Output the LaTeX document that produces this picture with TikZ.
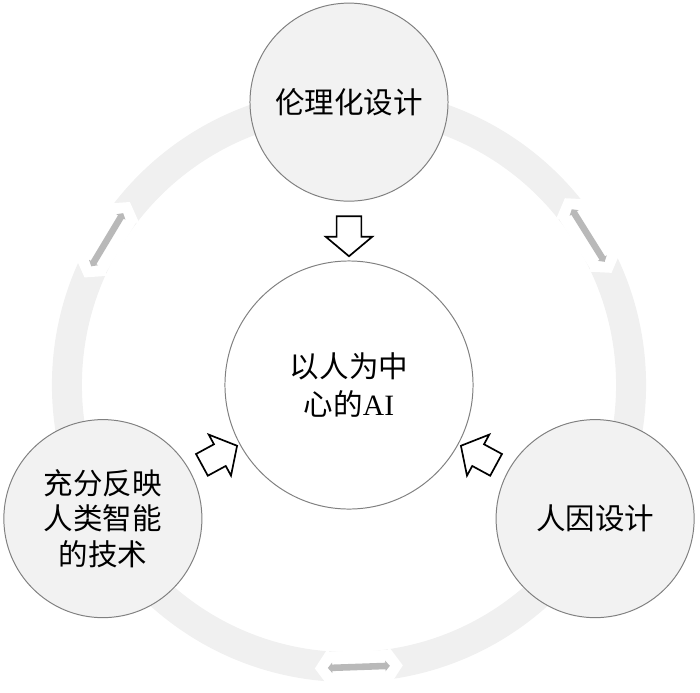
\documentclass[tikz,border=0pt]{standalone}
\usepackage{fontspec}
\setmainfont{Liberation Serif}
\newfontfamily\cjk{Noto Sans CJK SC}
\usetikzlibrary{shapes.arrows,calc}
\tikzset{
  theme/.style={circle, draw=gray, line width=0.7pt, fill=gray!10, minimum size=4.95cm, inner sep=0pt, align=center, font=\cjk\fontsize{21pt}{25.5pt}\selectfont},
  core/.style={theme, fill=white, minimum size=6.2cm, font=\cjk\fontsize{21pt}{27.5pt}\selectfont},
  push/.style={single arrow, draw=black, line width=1.2pt, fill=white, inner xsep=0pt, inner ysep=0.2875cm, minimum height=1cm, single arrow head extend=0.275cm, single arrow tip angle=100},
  ringgap/.style={double arrow, fill=white, inner xsep=0pt, inner ysep=0.39cm, minimum height=2.2cm, double arrow head extend=0.12cm, double arrow tip angle=110},
  ringlink/.style={double arrow, fill=gray!55, inner xsep=0pt, inner ysep=0.075cm, minimum height=1.55cm, double arrow head extend=0.05cm, double arrow tip angle=100}
}
\begin{document}
\begin{tikzpicture}[x=0.025cm, y=-0.025cm]
	\useasboundingbox (0,0) rectangle (700,693);
	\coordinate (hub) at (349,385);
	% ring behind the circles
	\draw [color=gray!12, line width=0.75cm] (hub) circle [radius=7.05cm];
	\foreach \a/\n in {149/l, 32/r, -88/b} {
		\node [ringgap, rotate=\a+90] (gap\n) at ($(hub)+(\a:7.05cm)$) {};
		\node [ringlink, rotate=\a+90] at (gap\n) {};
	}
	% circles
	\node [core] (ai) at (hub) {以人为中\\心的{\rmfamily AI}};
	\node [theme] (ethics) at ($(hub)+(90:7.07cm)$) {伦理化设计};
	\node [theme] (tech) at ($(hub)+(208.5:7cm)$) {充分反映\\人类智能\\的技术};
	\node [theme] (human) at ($(hub)+(-28.5:7cm)$) {人因设计};
	% block arrows into the centre
	\foreach \s in {ethics, tech, human}
		\path (\s) -- (ai) node [midway, sloped, allow upside down, push] {};
\end{tikzpicture}
\end{document}
